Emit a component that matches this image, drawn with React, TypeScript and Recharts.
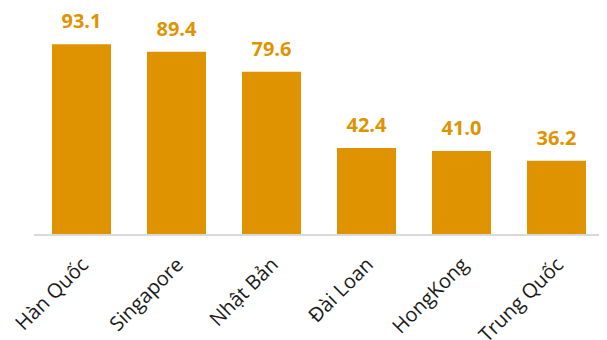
import { Bar, BarChart, LabelList, XAxis, YAxis } from "recharts";

const countries = ["Hàn Quốc", "Singapore", "Nhật Bản", "Đài Loan", "HongKong", "Trung Quốc"];
const values = [93.1, 89.4, 79.6, 42.4, 41.0, 36.2];

const data = countries.map((name, i) => ({ name, value: values[i] }));

const ORANGE = "#DF9300";

function AngledTick({ x, y, payload }: any) {
  return (
    <text
      transform={`translate(${x + 3},${y + 18}) rotate(-45)`}
      textAnchor="end"
      dy="0.35em"
      fontSize={20}
      fill="#1a1a1a"
      fontFamily="'Open Sans', sans-serif"
    >
      {payload.value}
    </text>
  );
}

export default function App() {
  return (
    <BarChart
      width={599}
      height={332}
      data={data}
      margin={{ top: 22, right: 3, bottom: 0, left: 26 }}
      barSize={59}
    >
      <YAxis hide domain={[0, 100]} />
      <XAxis
        dataKey="name"
        height={105}
        interval={0}
        tickLine={false}
        axisLine={{ stroke: "#d9d9d9", strokeWidth: 2 }}
        tick={<AngledTick />}
      />
      <Bar dataKey="value" fill={ORANGE} isAnimationActive={false}>
        <LabelList
          dataKey="value"
          position="top"
          offset={16}
          formatter={(v: number) => v.toFixed(1)}
          fill={ORANGE}
          fontSize={20}
          fontWeight="bold"
          fontFamily="'Open Sans', sans-serif"
        />
      </Bar>
    </BarChart>
  );
}
